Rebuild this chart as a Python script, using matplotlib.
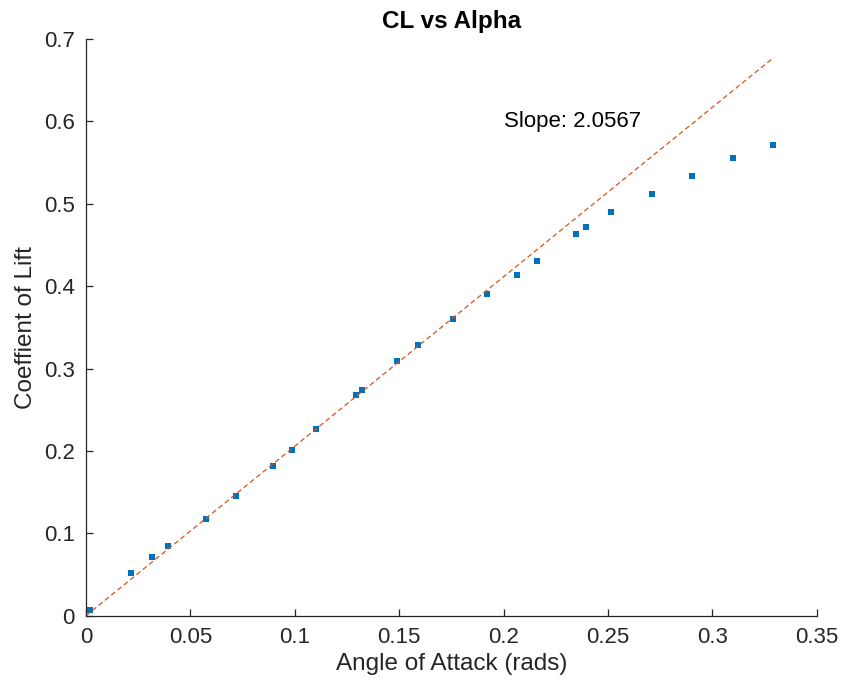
import numpy as np
import matplotlib.pyplot as plt

plt.rcParams['font.family'] = ['Liberation Sans', 'DejaVu Sans']

# measured angle of attack (rad) and lift coefficient
alpha = [0.0019, 0.0214, 0.0315, 0.0391, 0.0573, 0.0718, 0.0897, 0.0985,
         0.1103, 0.1293, 0.1323, 0.1489, 0.1590, 0.1756, 0.1919, 0.2063,
         0.2158, 0.2347, 0.2395, 0.2516, 0.2709, 0.2902, 0.3100, 0.3292]
cl = [0.0069, 0.0514, 0.0715, 0.0848, 0.1176, 0.1455, 0.1815, 0.2005,
      0.2260, 0.2684, 0.2744, 0.3090, 0.3290, 0.3600, 0.3900, 0.4133,
      0.4308, 0.4635, 0.4715, 0.4900, 0.5124, 0.5340, 0.5556, 0.5718]
slope = 2.0567

gray = (0.15, 0.15, 0.15)
blue = (0, 0.447, 0.741)
orange = (0.85, 0.325, 0.098)

fig = plt.figure(figsize=(8.43, 6.86), dpi=100)
ax = fig.add_axes([0.102, 0.1025, 0.8668, 0.8407])

ax.plot(alpha, cl, 's', color=blue, markersize=3.7, markeredgewidth=0)

# linear fit through the origin
xfit = np.array([0, max(alpha)])
ax.plot(xfit, slope * xfit, linestyle=(0, (4, 2.5)), color=orange, linewidth=0.9)

ax.text(0.2, 0.6, f'Slope: {slope:.4f}', fontsize=16, color='black',
        ha='left', va='center')

ax.set_xlim(0, 0.35)
ax.set_ylim(0, 0.7)
ax.set_xticks(np.arange(0, 0.351, 0.05))
ax.set_yticks(np.arange(0, 0.71, 0.1))
ax.set_xticklabels(['0', '0.05', '0.1', '0.15', '0.2', '0.25', '0.3', '0.35'])
ax.set_yticklabels(['0', '0.1', '0.2', '0.3', '0.4', '0.5', '0.6', '0.7'])

for side in ['top', 'right']:
    ax.spines[side].set_visible(False)
for side in ['left', 'bottom']:
    ax.spines[side].set_color(gray)
    ax.spines[side].set_linewidth(0.9)

ax.tick_params(direction='in', length=5, width=0.9, colors=gray,
               labelsize=16, pad=8)

ax.set_title('CL vs Alpha', fontsize=17.5, fontweight='bold', pad=8)
ax.set_xlabel('Angle of Attack (rads)', fontsize=17.5, color=gray, labelpad=4)
ax.set_ylabel('Coeffient of Lift', fontsize=17.5, color=gray, labelpad=5)

fig.savefig('out.png', dpi=100)
